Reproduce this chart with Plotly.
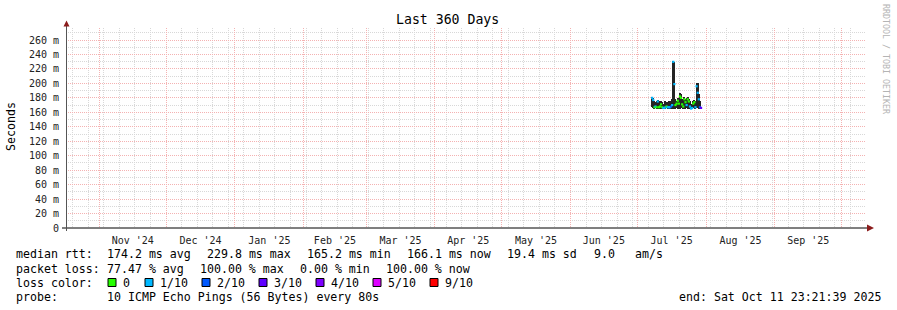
import plotly.graph_objects as go
import pandas as pd

# ---------------- data ----------------
range_start = "2024-10-16 23:21:39"
range_end = "2025-10-11 23:21:39"

# 12-hour consolidated buckets (first bucket start)
bucket_start = "2025-07-07 12:00"
bucket_hours = 12

smoke_low = [167, 166, 165, 166, 165, 166, 165, 166, 165, 165, 164.5, 165, 165, 166, 165,
             166, 165, 165, 166, 165, 166, 165, 166, 165, 166, 165, 166, 166, 165, 166,
             165, 166, 165, 166, 165, 164.5, 165, 166, 166, 165, 166, 166, 165, 165, 165]
smoke_high = [181, 180, 176, 174, 175, 177, 175, 173, 176, 174, 172, 171, 175, 174, 174,
              176, 173, 175, 178, 231, 230, 178, 176, 180, 178, 187, 185, 178, 176, 181,
              179, 180, 181, 179, 175, 170, 172, 176, 177, 175, 201, 200, 185, 176, 168]
median_rtt = [180, 177, 167, 168, 167, 175, 167, 168, 171, 167, 166, 166, 167, 168, 167,
              167, 167, 168, 170, 229.8, 199, 170, 172, 176, 172, 182, 180, 171, 168, 178,
              174, 170, 178, 175, 168, 165.2, 166, 172, 174, 167, 196, 187, 178, 167, 166.1]
loss_count = [1, 1, 0, 1, 0, 1, 0, 0, 0, 0, 1, 1, 1, 0, 1,
              1, 1, 2, 1, 1, 1, 0, 0, 0, 0, 0, 0, 0, 0, 0,
              0, 1, 0, 0, 1, 1, 1, 0, 0, 1, 1, 1, 1, 2, 3]

loss_levels = [0, 1, 2, 3, 4, 5, 9]
loss_labels = ["0", "1/10", "2/10", "3/10", "4/10", "5/10", "9/10"]
loss_colors = ["#26ff00", "#00b8ff", "#0059ff", "#5e00ff", "#7e00ff", "#dd00ff", "#ff0000"]

y_tick_values = [0, 20, 40, 60, 80, 100, 120, 140, 160, 180, 200, 220, 240, 260]
y_tick_labels = ["0"] + [f"{v} m" for v in y_tick_values[1:]]

stats_rtt = ["174.2 ms avg", "229.8 ms max", "165.2 ms min", "166.1 ms now", "19.4 ms sd", "9.0", "am/s"]
stats_loss = ["77.47 % avg", "100.00 % max", "0.00 % min", "100.00 % now"]
probe_text = "10 ICMP Echo Pings (56 Bytes) every 80s"
end_text = "end: Sat Oct 11 23:21:39 2025"
title_text = "Last 360 Days"

# ---------------- layout helpers ----------------
W, H = 897, 310
L, R, T, B = 66, 866, 28, 228
MONO = "DejaVu Sans Mono"


def pxx(px):
    return (px - L) / (R - L)


def pxy(py):
    return (B - py) / (B - T)


times = pd.date_range(bucket_start, periods=len(median_rtt), freq=f"{bucket_hours}h") + pd.Timedelta(hours=bucket_hours / 2)
color_of = dict(zip(loss_levels, loss_colors))

fig = go.Figure()
fig.add_trace(go.Bar(
    x=times, base=smoke_low, y=[h - l for h, l in zip(smoke_high, smoke_low)],
    width=bucket_hours * 3600 * 1000, marker=dict(color="#242424", line=dict(width=0)),
    hoverinfo="skip", showlegend=False))
fig.add_trace(go.Scatter(
    x=times, y=median_rtt, mode="markers",
    marker=dict(symbol="square", size=2.2, color=[color_of[c] for c in loss_count], line=dict(width=0)),
    showlegend=False))

ann = []


def text(px, py, s, size=11.6, color="#000", xanchor="left", angle=0):
    ann.append(dict(xref="paper", yref="paper", x=pxx(px), y=pxy(py), text=s.replace(" ", "\u00a0"),
                    showarrow=False, xanchor=xanchor, yanchor="middle", textangle=angle,
                    font=dict(family=MONO, size=size, color=color), borderpad=0, borderwidth=0))


text(447.5, 19, title_text, size=13.2, xanchor="center")
text(11, 126, "Seconds", size=11.6, xanchor="center", angle=-90)
text(886, 59, "RRDTOOL / TOBI OETIKER", size=8.3, color="#b4b4b4", xanchor="center", angle=90)

# legend rows
text(16, 254, "median rtt:")
for xp, s in zip([107, 207, 307, 407, 507, 594, 635], stats_rtt):
    text(xp, 254, s)
text(16, 268.5, "packet loss:")
for xp, s in zip([107, 200, 300, 386], stats_loss):
    text(xp, 268.5, s)
text(16, 282.5, "loss color:")
box_left = [108, 145, 202, 259, 316, 373, 430]
shapes = []
for bl, lab, col in zip(box_left, loss_labels, loss_colors):
    shapes.append(dict(type="rect", xref="paper", yref="paper", x0=pxx(bl), x1=pxx(bl + 8),
                       y0=pxy(278.5), y1=pxy(286.5), fillcolor=col, line=dict(color="#000", width=1),
                       layer="above"))
    text(bl + 15, 282.5, lab)
text(16, 296.5, "probe:")
text(107, 296.5, probe_text)
text(881, 296.5, end_text, xanchor="right")

# axes lines and arrows
shapes.append(dict(type="line", xref="paper", yref="paper", x0=pxx(62), x1=pxx(868), y0=0, y1=0,
                   line=dict(color="#000", width=1), layer="above"))
shapes.append(dict(type="line", xref="paper", yref="paper", x0=pxx(66.5), x1=pxx(66.5), y0=pxy(231), y1=pxy(25),
                   line=dict(color="#555", width=1), layer="above"))
shapes.append(dict(type="path", xref="paper", yref="paper",
                   path=f"M {pxx(867)} {pxy(224.5)} L {pxx(874)} {pxy(228)} L {pxx(867)} {pxy(231.5)} Z",
                   fillcolor="#8b1c1c", line=dict(width=0), layer="above"))
shapes.append(dict(type="path", xref="paper", yref="paper",
                   path=f"M {pxx(63.5)} {pxy(26.5)} L {pxx(66.5)} {pxy(20.5)} L {pxx(69.5)} {pxy(26.5)} Z",
                   fillcolor="#8b1c1c", line=dict(width=0), layer="above"))

MAJOR = "#f4b2b2"
MINOR = "#d8d8d8"
DASH = "1px,1px"

fig.update_layout(
    width=W, height=H, autosize=False,
    margin=dict(l=L, r=W - R, t=T, b=H - B, pad=0),
    paper_bgcolor="#fff", plot_bgcolor="#fff",
    bargap=0, showlegend=False,
    annotations=ann, shapes=shapes,
    xaxis=dict(type="date", range=[range_start, range_end], dtick="M1", tick0="2024-11-01",
               ticklabelmode="period", tickformat="%b '%y", showgrid=True, gridcolor=MAJOR,
               griddash=DASH, gridwidth=1, showline=False, zeroline=False, ticks="outside",
               ticklen=3, tickcolor="rgba(0,0,0,0)",
               tickfont=dict(family=MONO, size=10, color="#222"),
               minor=dict(dtick=7 * 86400000, tick0="2024-10-20", showgrid=True, gridcolor=MINOR,
                          griddash=DASH, gridwidth=1, ticks="")),
    yaxis=dict(range=[0, (B - T) / 0.72308], tickmode="array", tickvals=y_tick_values, ticktext=y_tick_labels,
               showgrid=True, gridcolor=MAJOR, griddash=DASH, gridwidth=1, zeroline=False, showline=False,
               ticks="outside", ticklen=4, tickcolor="rgba(0,0,0,0)",
               tickfont=dict(family=MONO, size=10, color="#222"),
               minor=dict(tickmode="linear", tick0=0, dtick=10, showgrid=True, gridcolor=MINOR,
                          griddash=DASH, gridwidth=1, ticks="")),
)

fig.write_html("out.html")
